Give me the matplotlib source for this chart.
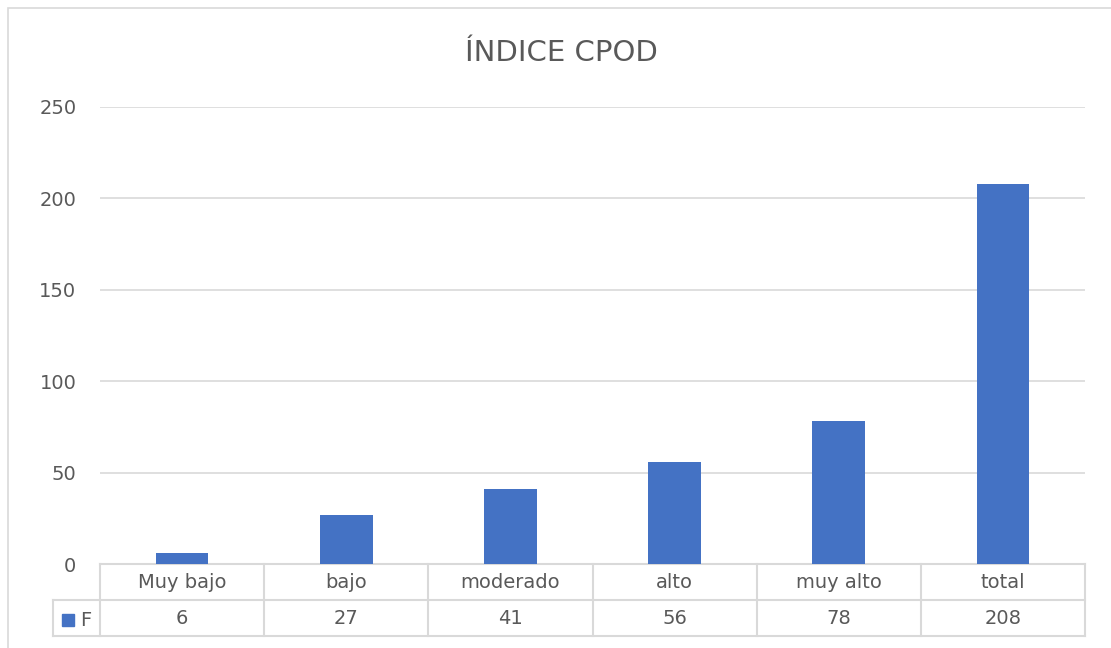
import numpy as np
import matplotlib.pyplot as plt
from matplotlib.patches import Rectangle

# data
categories = ['Muy bajo', 'bajo', 'moderado', 'alto', 'muy alto', 'total']
values = [6, 27, 41, 56, 78, 208]
series_name = 'F'
title = 'ÍNDICE CPOD'

bar_color = '#4472C4'
text_color = '#595959'
grid_color = '#D9D9D9'

W, H = 1111, 648
fig = plt.figure(figsize=(W / 100, H / 100), dpi=100)
plt.rcParams['font.family'] = ['DejaVu Sans']

# chart border
fig.patches.append(Rectangle((8 / W, -0.1), 1.2, 1 - 8 / H + 0.1, transform=fig.transFigure,
                             fill=False, edgecolor=grid_color, lw=1.2))

left, right, top, bottom = 100, 1085, 107, 564
ax = fig.add_axes([left / W, 1 - bottom / H, (right - left) / W, (bottom - top) / H])

x = np.arange(len(categories))
ax.bar(x, values, width=0.32, color=bar_color, zorder=3)
ax.set_xlim(-0.5, len(categories) - 0.5)
ax.set_ylim(0, 250)
ax.set_yticks(np.arange(0, 251, 50))
ax.yaxis.grid(True, color=grid_color, lw=1.2, zorder=0)
ax.tick_params(axis='y', length=0, pad=17, labelsize=14, labelcolor=text_color)
ax.set_xticks([])
for s in ax.spines.values():
    s.set_visible(False)

fig.text(561 / W, 1 - 53 / H, title, ha='center', va='center', fontsize=21,
         color=text_color)

# data table under the axis
row_h = 36 / (bottom - top)
trans = ax.get_xaxis_transform()
table_left = -0.5 - (left - 53) / ((right - left) / len(categories))
lw = 1.5
# horizontal lines
ax.plot([-0.5, 5.5], [0, 0], transform=trans, color=grid_color, lw=lw, clip_on=False)
ax.plot([table_left, 5.5], [-row_h, -row_h], transform=trans, color=grid_color, lw=lw, clip_on=False)
ax.plot([table_left, 5.5], [-2 * row_h, -2 * row_h], transform=trans, color=grid_color, lw=lw, clip_on=False)
# vertical lines
for b in np.arange(-0.5, len(categories), 1.0):
    ax.plot([b, b], [0, -2 * row_h], transform=trans, color=grid_color, lw=lw, clip_on=False)
ax.plot([table_left, table_left], [-row_h, -2 * row_h], transform=trans, color=grid_color, lw=lw, clip_on=False)

for xi, cat, v in zip(x, categories, values):
    ax.text(xi, -row_h / 2, cat, transform=trans, ha='center', va='center', fontsize=14, color=text_color)
    ax.text(xi, -1.5 * row_h, str(v), transform=trans, ha='center', va='center', fontsize=14, color=text_color)

# legend key in the table
fig.patches.append(Rectangle((62 / W, 1 - 626 / H), 12 / W, 12 / H, transform=fig.transFigure,
                             color=bar_color))
fig.text(80 / W, 1 - 620 / H, series_name, ha='left', va='center', fontsize=14, color=text_color)

plt.savefig('out.png', dpi=100)
